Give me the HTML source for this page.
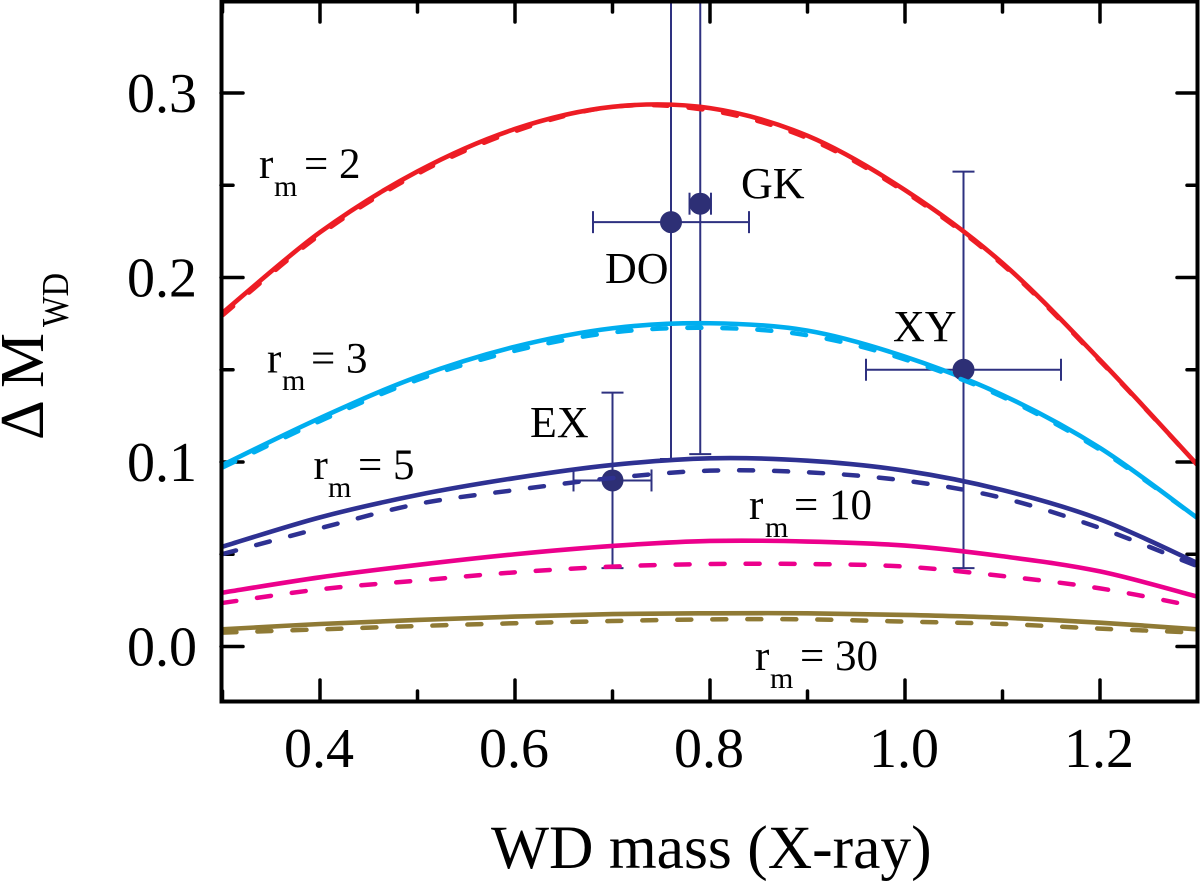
<!DOCTYPE html>
<html>
<head>
<meta charset="utf-8">
<title>Delta M WD chart</title>
<style>
html,body{margin:0;padding:0;background:#fff;width:1200px;height:882px;overflow:hidden}
svg{display:block}
text{font-family:"Liberation Serif",serif;fill:#000}
</style>
</head>
<body>
<svg id="chart" width="1200" height="882" viewBox="0 0 1200 882" xmlns="http://www.w3.org/2000/svg">
  <defs><clipPath id="plot-clip"><rect x="221" y="1" width="976" height="700"/></clipPath></defs>
  <g id="grid-ticks"></g>
  <g id="error-bars" clip-path="url(#plot-clip)"></g>
  <g id="series-solid" clip-path="url(#plot-clip)"></g>
  <g id="points" clip-path="url(#plot-clip)"></g>
  <g id="series-dashed" clip-path="url(#plot-clip)"></g>
  <rect x="221.5" y="1.5" width="976" height="700" fill="none" stroke="#000" stroke-width="4"/>
  <g id="tick-labels"></g>

  <text x="491" y="868" font-size="61.5">WD mass (X-ray)</text>
  <g transform="translate(43,440) rotate(-90)">
    <text x="0" y="0" font-size="62">Δ M</text>
    <text x="113" y="25" font-size="38" textLength="54" lengthAdjust="spacingAndGlyphs">WD</text>
  </g>

  <g><text x="259" y="178" font-size="43">r</text><text x="274" y="196" font-size="30">m</text><text x="304" y="178" font-size="43">= 2</text></g>
  <g><text x="267" y="372.5" font-size="43">r</text><text x="282" y="390" font-size="30">m</text><text x="311" y="372.5" font-size="43">= 3</text></g>
  <g><text x="313.5" y="479" font-size="43">r</text><text x="328" y="497" font-size="30">m</text><text x="358" y="479" font-size="43">= 5</text></g>
  <g><text x="749" y="519" font-size="43">r</text><text x="765" y="537" font-size="30">m</text><text x="794" y="519" font-size="43">= 10</text></g>
  <g><text x="755" y="670" font-size="43">r</text><text x="770" y="688" font-size="30">m</text><text x="800" y="670" font-size="43">= 30</text></g>

  <text x="741" y="198" font-size="44">GK</text>
  <text x="605" y="283" font-size="44">DO</text>
  <text x="893" y="341" font-size="44">XY</text>
  <text x="530" y="437" font-size="44">EX</text>
</svg>
<script>
const xSamples = [0.3,0.4,0.5,0.6,0.7,0.8,0.9,1.0,1.1,1.2,1.3];
const redSolid = [0.1808,0.2245,0.2575,0.2805,0.2925,0.2918,0.2768,0.2474,0.2078,0.1553,0.0984];
const redDashed = [0.1795,0.2232,0.2562,0.2793,0.2925,0.2905,0.2755,0.2464,0.207,0.1548,0.0984];
const cyanSolid = [0.0984,0.1238,0.1462,0.1625,0.1725,0.1752,0.1712,0.1571,0.1363,0.1076,0.0696];
const cyanDashed = [0.0970,0.1222,0.1445,0.1603,0.1702,0.1727,0.1687,0.1556,0.1353,0.1066,0.0696];
const navySolid = [0.0541,0.070,0.0821,0.0913,0.0984,0.102,0.1007,0.0953,0.0848,0.0689,0.0452];
const navyDashed = [0.0501,0.0641,0.0772,0.0848,0.0913,0.0953,0.0944,0.0899,0.0805,0.0642,0.0435];
const pinkSolid = [0.0292,0.0375,0.0442,0.050,0.0545,0.0572,0.0569,0.0547,0.0489,0.0407,0.027];
const pinkDashed = [0.0236,0.031,0.0357,0.0402,0.0433,0.0447,0.0447,0.0433,0.0382,0.0315,0.0215];
const oliveSolid = [0.0093,0.0122,0.0144,0.0162,0.0176,0.018,0.018,0.0171,0.0156,0.0129,0.0093];
const oliveDashed = [0.0075,0.0093,0.0111,0.0126,0.0138,0.0147,0.0147,0.0135,0.0122,0.0097,0.0075];

const seriesNames = ['rm-2','rm-3','rm-5','rm-10','rm-30'];
const seriesSolid = [redSolid,cyanSolid,navySolid,pinkSolid,oliveSolid];
const seriesDashed = [redDashed,cyanDashed,navyDashed,pinkDashed,oliveDashed];
const seriesColors = ['#ed1c24','#00aeef','#2e3192','#ec008c','#8f7a35'];

const pointNames = ['DO','GK','XY','EX'];
const pointX = [0.76,0.79,1.06,0.70];
const pointY = [0.23,0.24,0.15,0.09];
const pointXLow = [0.68,0.779,0.96,0.66];
const pointXHigh = [0.84,0.801,1.16,0.74];
const pointYLow = [0.1016,0.1043,0.0425,0.0425];
const pointYHigh = [0.40,0.40,0.2574,0.1376];

const xMajorTicks = [0.4,0.6,0.8,1.0,1.2];
const xMinorTicks = [0.3,0.5,0.7,0.9,1.1,1.3];
const yMajorTicks = [0.0,0.1,0.2,0.3];
const yMinorTicks = [0.05,0.15,0.25];
const xTickLabels = ['0.4','0.6','0.8','1.0','1.2'];
const yTickLabels = ['0.0','0.1','0.2','0.3'];

const SVGNS = 'http://www.w3.org/2000/svg';
function xScale(v){return 320+(v-0.4)*975;}
function yScale(v){return 646.5-v*1845;}

function pathFor(xs,ys){
  const p = xs.map(function(x,i){return [xScale(x),yScale(ys[i])];});
  let d = 'M'+p[0][0]+' '+p[0][1];
  for(let i=0;i<p.length-1;i++){
    const a=p[Math.max(i-1,0)],b=p[i],c=p[i+1],e=p[Math.min(i+2,p.length-1)];
    const c1x=b[0]+(c[0]-a[0])/6,c1y=b[1]+(c[1]-a[1])/6;
    const c2x=c[0]-(e[0]-b[0])/6,c2y=c[1]-(e[1]-b[1])/6;
    d+=' C'+c1x+' '+c1y+' '+c2x+' '+c2y+' '+c[0]+' '+c[1];
  }
  return d;
}
function mk(tag,attrs,parent){
  const el=document.createElementNS(SVGNS,tag);
  for(const k in attrs){el.setAttribute(k,attrs[k]);}
  parent.appendChild(el);
  return el;
}

const ticks=document.getElementById('grid-ticks');
const labels=document.getElementById('tick-labels');
function addTick(x1,y1,x2,y2,name){
  const t=mk('line',{x1:x1,y1:y1,x2:x2,y2:y2,stroke:'#000','stroke-width':3.5,'stroke-linecap':'round'},ticks);
  
  
}
xMajorTicks.forEach(function(v,i){
  const x=xScale(v);
  addTick(x,701,x,680,'x-major-tick');
  addTick(x,1,x,22,'x-major-tick-top');
  const t=mk('text',{x:x-1,y:767,'font-size':56,'text-anchor':'middle'},labels);
  t.textContent=xTickLabels[i];
  
  
});
xMinorTicks.forEach(function(v){
  const x=xScale(v);
  addTick(x,701,x,691,'x-minor-tick');
  addTick(x,1,x,12,'x-minor-tick-top');
});
yMajorTicks.forEach(function(v,i){
  const y=yScale(v);
  addTick(221,y,243,y,'y-major-tick');
  addTick(1197,y,1177,y,'y-major-tick-right');
  const t=mk('text',{x:197,y:y+19,'font-size':56,'text-anchor':'end'},labels);
  t.textContent=yTickLabels[i];
  
  
});
yMinorTicks.forEach(function(v){
  const y=yScale(v);
  addTick(221,y,233,y,'y-minor-tick');
  addTick(1197,y,1187,y,'y-minor-tick-right');
});

const solidG=document.getElementById('series-solid');
const dashedG=document.getElementById('series-dashed');
seriesNames.forEach(function(n,i){
  const solid=mk('path',{d:pathFor(xSamples,seriesSolid[i]),fill:'none',stroke:seriesColors[i],'stroke-width':4.6},solidG);
  
  
  const dashed=mk('path',{d:pathFor(xSamples,seriesDashed[i]),fill:'none',stroke:seriesColors[i],'stroke-width':4.5,'stroke-dasharray':'14 21','stroke-linecap':'round'},dashedG);
  
  
});

const ptG=document.getElementById('points');
const errG=document.getElementById('error-bars');
const errColor='#2e3180';
const dotColor='#2d2f75';
pointNames.forEach(function(n,i){
  const px=xScale(pointX[i]),py=yScale(pointY[i]);
  const xl=xScale(pointXLow[i]),xh=xScale(pointXHigh[i]);
  const yl=yScale(pointYLow[i]),yh=yScale(pointYHigh[i]);
  const segs=[[xl,py,xh,py],[px,yl,px,yh],[xl,py-11,xl,py+11],[xh,py-11,xh,py+11],[px-11,yl,px+11,yl],[px-11,yh,px+11,yh]];
  segs.forEach(function(s){
    const l=mk('line',{x1:s[0],y1:s[1],x2:s[2],y2:s[3],stroke:errColor,'stroke-width':2},errG);
    
    
  });
  const c=mk('circle',{cx:px,cy:py,r:11,fill:dotColor},ptG);
  
  
});
</script>
</body>
</html>
